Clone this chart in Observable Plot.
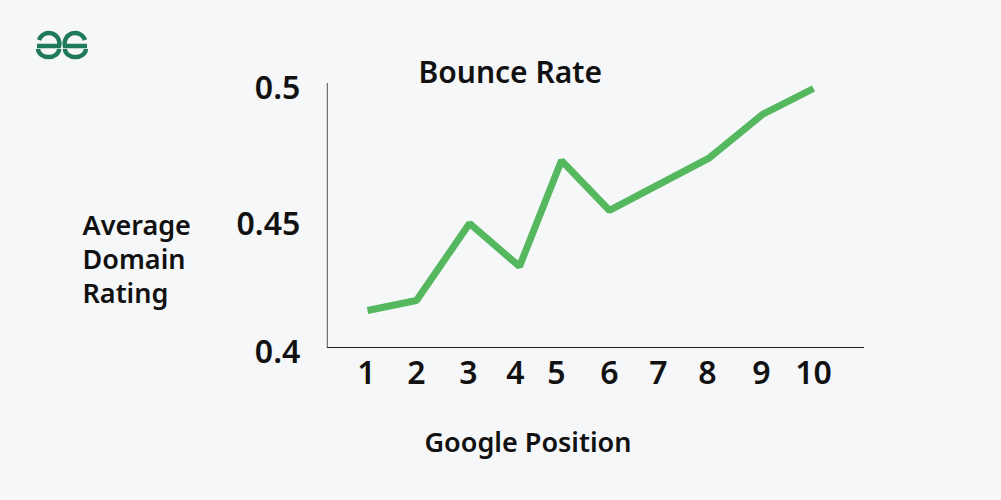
<!DOCTYPE html>
<html>
<head>
<meta charset="utf-8">
<script src="https://cdn.jsdelivr.net/npm/d3@7"></script>
<script src="https://cdn.jsdelivr.net/npm/@observablehq/plot@0.6"></script>
<style>
html,body{margin:0;padding:0;background:#f5f7f9;overflow:hidden}
#chart{position:relative;width:1001px;height:500px}
#chart svg.plot{display:block;position:absolute;left:0;top:0;background:transparent}
#logo{position:absolute;left:0;top:0}
</style>
</head>
<body>
<div id="chart">
<svg id="logo" width="100" height="70" viewBox="0 0 100 70" fill="none" stroke="#1f7a5a" stroke-width="4.4">
<path d="M39 40 A10.5 10.5 0 0 1 59.1 46 H37"/>
<path d="M38.1 49 A10.5 8 0 0 0 59.1 49"/>
<path d="M85 40 A10.5 10.5 0 0 0 64.9 46 H87"/>
<path d="M85.9 49 A10.5 8 0 0 1 64.9 49"/>
</svg>
</div>
<script>
const positions = [1, 2, 3, 4, 5, 6, 7, 8, 9, 10];
const rates = [0.4159, 0.4197, 0.4489, 0.4326, 0.4727, 0.4538, 0.4636, 0.4735, 0.4902, 0.5];
const yTickPlaces = [0.4, 0.4485, 0.5];
const yTickLabels = ["0.4", "0.45", "0.5"];
const xTickPlaces = [0.98, 2, 2.98, 3.92, 4.88, 6, 7, 7.98, 8.98, 10];
const xTickLabels = ["1", "2", "3", "4", "5", "6", "7", "8", "9", "10"];
const title = "Bounce Rate";
const xTitle = "Google Position";
const yTitle = "Average\nDomain\nRating";

const font = "'Noto Sans', Lato, sans-serif";
const table = positions.map((p, i) => ({position: p, rate: rates[i]}));

const plot = Plot.plot({
  width: 1001,
  height: 500,
  marginTop: 0, marginBottom: 0, marginLeft: 0, marginRight: 0,
  style: {background: "transparent", fontFamily: font},
  x: {type: "linear", domain: positions, range: [367, 416, 469, 519, 561, 609, 658, 708, 762, 813]},
  y: {domain: [0.4, 0.5], range: [352, 88]},
  marks: [
    Plot.ruleX([0.18], {y1: 0.4019, y2: 0.5019, stroke: "#555", strokeWidth: 1}),
    Plot.ruleY([0.4019], {x1: 0.18, x2: 11.0, stroke: "#222", strokeWidth: 1.2}),
    Plot.axisY(yTickPlaces, {
      tickSize: 0, tickPadding: 0, anchor: "left", label: null,
      x: 0.18, dx: -27, dy: 0, fontSize: 32, fontWeight: 600, fill: "#111",
      tickFormat: (d, i) => yTickLabels[i]
    }),
    Plot.axisX(xTickPlaces, {
      tickSize: 0, anchor: "bottom", label: null,
      y: 0.4, dy: 0, fontSize: 32, fontWeight: 600, fill: "#111",
      tickFormat: (d, i) => xTickLabels[i]
    }),
    Plot.line(table, {x: "position", y: "rate", stroke: "#55b85e", strokeWidth: 7, strokeLinejoin: "miter", strokeLinecap: "butt", curve: "linear"}),
    Plot.text([title], {frameAnchor: "top-left", dx: 418, dy: 73, lineAnchor: "middle", textAnchor: "start", fontSize: 30, fontWeight: 600, fill: "#111"}),
    Plot.text([xTitle], {frameAnchor: "top-left", dx: 424, dy: 443, lineAnchor: "middle", textAnchor: "start", fontSize: 27, fontWeight: 600, fill: "#111"}),
    Plot.text([yTitle], {frameAnchor: "top-left", dx: 82, dy: 258, lineAnchor: "middle", lineHeight: 1.26, textAnchor: "start", fontSize: 27, fontWeight: 600, fill: "#111"})
  ]
});
document.getElementById("chart").appendChild(plot);
</script>
</body>
</html>
